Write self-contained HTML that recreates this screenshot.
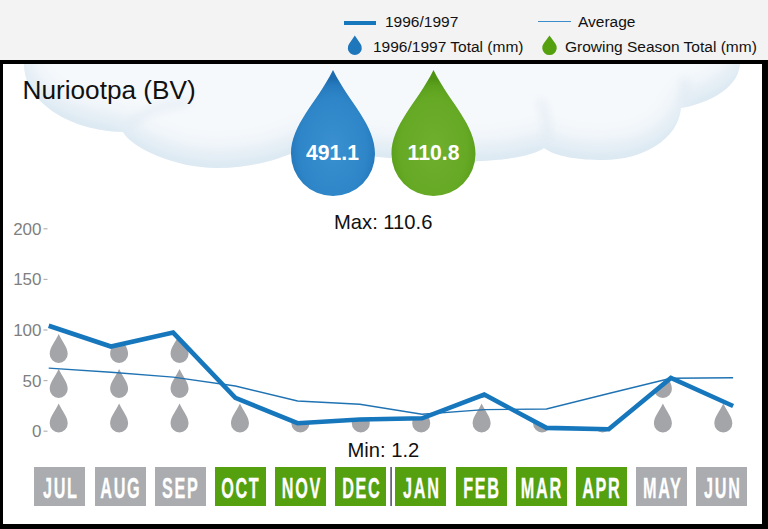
<!DOCTYPE html>
<html><head><meta charset="utf-8">
<style>
*{margin:0;padding:0;box-sizing:border-box}
html,body{width:768px;height:529px;overflow:hidden;background:#f3f3f3;font-family:"Liberation Sans",sans-serif}
.lg{position:absolute;font-size:15.5px;color:#111;line-height:15px;white-space:nowrap}
#box{position:absolute;left:0;top:60px;width:768px;height:469px;background:#000}
#inner{position:absolute;left:3px;top:64px;width:759px;height:460px;background:#fff;overflow:hidden}
svg{position:absolute;left:0;top:0}
.mb{position:absolute;top:467px;width:51px;height:39px;text-align:center;overflow:hidden}
.mb span{position:absolute;left:50%;top:0;color:#fff;font-weight:bold;font-size:29.5px;line-height:42.5px;letter-spacing:3px;text-indent:3px;transform:translateX(-50%) scaleX(0.55);-webkit-text-stroke:0.3px #fff;white-space:nowrap}
.t{position:absolute;white-space:nowrap;color:#111}
</style></head><body>
<div class="lg" style="left:344px;top:21px;width:32px;height:4px;background:#1777bc"></div>
<div class="lg" style="left:385px;top:14px">1996/1997</div>
<div class="lg" style="left:538px;top:20.5px;width:33px;height:1.5px;background:#3b8ccb"></div>
<div class="lg" style="left:578px;top:14px">Average</div>
<svg width="768" height="60" style="top:0">
<path fill="#1f77bb" d="M354.80,35.50 L360.60,44.08 A7.00,7.00 0 1 1 349.00,44.08 Z"/>
<path fill="#55a00e" d="M549.50,35.50 L555.34,43.46 A7.25,7.25 0 1 1 543.66,43.46 Z"/>
</svg>
<div class="lg" style="left:373px;top:39px">1996/1997 Total (mm)</div>
<div class="lg" style="left:565px;top:39px">Growing Season Total (mm)</div>
<div id="box"></div>
<div id="inner"></div>
<svg width="768" height="529">
<defs>
<linearGradient id="cg" x1="0" y1="0" x2="0" y2="1">
<stop offset="0" stop-color="#f7fafd"/><stop offset="0.6" stop-color="#eef4f9"/><stop offset="1" stop-color="#dfeaf3"/>
</linearGradient>
<radialGradient id="bg1" cx="0.5" cy="0.62" r="0.55">
<stop offset="0" stop-color="#3a90d0"/><stop offset="0.72" stop-color="#2e86c8"/><stop offset="0.9" stop-color="#267bbe"/><stop offset="1" stop-color="#1c6daf"/>
</radialGradient>
<radialGradient id="gg1" cx="0.5" cy="0.62" r="0.55">
<stop offset="0" stop-color="#6fb02e"/><stop offset="0.72" stop-color="#66a925"/><stop offset="0.9" stop-color="#5ca11d"/><stop offset="1" stop-color="#4f9313"/>
</radialGradient>
<filter id="blr" x="-50%" y="-50%" width="200%" height="200%"><feGaussianBlur stdDeviation="5"/></filter>
<filter id="ish" x="-10%" y="-10%" width="120%" height="120%">
<feGaussianBlur in="SourceAlpha" stdDeviation="12" result="blur"/>
<feOffset in="blur" dy="-15" result="off"/>
<feComposite in="SourceAlpha" in2="off" operator="out" result="inv"/>
<feFlood flood-color="#d9e7f1" result="fl"/>
<feComposite in="fl" in2="inv" operator="in" result="shadow"/>
<feMerge><feMergeNode in="SourceGraphic"/><feMergeNode in="shadow"/></feMerge>
</filter>
<clipPath id="ic"><rect x="3" y="64" width="759" height="460"/></clipPath>
<clipPath id="under"><polygon points="48.70,470 48.70,325.70 110.92,346.50 173.14,332.60 235.36,397.80 297.58,423.20 359.80,419.50 422.02,418.30 484.24,394.50 546.46,427.90 608.68,429.30 670.90,377.90 733.12,406.00 733.12,470"/></clipPath>
</defs>
<g clip-path="url(#ic)">
<path fill="#f6f9fc" filter="url(#ish)" d="M24,0 L24,64 C24,102 70,131 123,132 C132,148 175,168 217,168 C260,168 290,155 310,145 C330,152 380,159 440,161 C490,163 530,158 544,148 C556,157 580,160 603,160 C642,160 678,140 681,108 C700,105 738,92 740,64 L740,0 Z"/>
<g fill="none" stroke="#dfe9f2" stroke-width="7" filter="url(#blr)" opacity="0.8">
<path d="M126,128 C140,112 165,104 190,102"/>
<path d="M546,144 C548,128 546,112 540,100"/>
<path d="M683,104 C686,96 686,86 683,78"/>
</g>
</g>
<path fill="url(#bg1)" d="M333.00,70.00 C349.80,103.60 375.00,124.60 375.00,154.00 A42.00,42.00 0 0 1 291.00,154.00 C291.00,124.60 316.20,103.60 333.00,70.00 Z"/>
<path fill="url(#gg1)" d="M433.50,70.00 C450.30,103.60 475.50,124.60 475.50,154.00 A42.00,42.00 0 0 1 391.50,154.00 C391.50,124.60 416.70,103.60 433.50,70.00 Z"/>
<g fill="#a4a5a8" clip-path="url(#under)">
<path d="M58.70,334.00 C62.30,342.00 67.70,347.00 67.70,354.00 A9.00,9.00 0 0 1 49.70,354.00 C49.70,347.00 55.10,342.00 58.70,334.00 Z"/><path d="M58.70,369.00 C62.30,377.00 67.70,382.00 67.70,389.00 A9.00,9.00 0 0 1 49.70,389.00 C49.70,382.00 55.10,377.00 58.70,369.00 Z"/><path d="M58.70,403.50 C62.30,411.50 67.70,416.50 67.70,423.50 A9.00,9.00 0 0 1 49.70,423.50 C49.70,416.50 55.10,411.50 58.70,403.50 Z"/><path d="M119.12,334.00 C122.72,342.00 128.12,347.00 128.12,354.00 A9.00,9.00 0 0 1 110.12,354.00 C110.12,347.00 115.52,342.00 119.12,334.00 Z"/><path d="M119.12,369.00 C122.72,377.00 128.12,382.00 128.12,389.00 A9.00,9.00 0 0 1 110.12,389.00 C110.12,382.00 115.52,377.00 119.12,369.00 Z"/><path d="M119.12,403.50 C122.72,411.50 128.12,416.50 128.12,423.50 A9.00,9.00 0 0 1 110.12,423.50 C110.12,416.50 115.52,411.50 119.12,403.50 Z"/><path d="M179.54,334.00 C183.14,342.00 188.54,347.00 188.54,354.00 A9.00,9.00 0 0 1 170.54,354.00 C170.54,347.00 175.94,342.00 179.54,334.00 Z"/><path d="M179.54,369.00 C183.14,377.00 188.54,382.00 188.54,389.00 A9.00,9.00 0 0 1 170.54,389.00 C170.54,382.00 175.94,377.00 179.54,369.00 Z"/><path d="M179.54,403.50 C183.14,411.50 188.54,416.50 188.54,423.50 A9.00,9.00 0 0 1 170.54,423.50 C170.54,416.50 175.94,411.50 179.54,403.50 Z"/><path d="M239.96,334.00 C243.56,342.00 248.96,347.00 248.96,354.00 A9.00,9.00 0 0 1 230.96,354.00 C230.96,347.00 236.36,342.00 239.96,334.00 Z"/><path d="M239.96,369.00 C243.56,377.00 248.96,382.00 248.96,389.00 A9.00,9.00 0 0 1 230.96,389.00 C230.96,382.00 236.36,377.00 239.96,369.00 Z"/><path d="M239.96,403.50 C243.56,411.50 248.96,416.50 248.96,423.50 A9.00,9.00 0 0 1 230.96,423.50 C230.96,416.50 236.36,411.50 239.96,403.50 Z"/><path d="M300.38,334.00 C303.98,342.00 309.38,347.00 309.38,354.00 A9.00,9.00 0 0 1 291.38,354.00 C291.38,347.00 296.78,342.00 300.38,334.00 Z"/><path d="M300.38,369.00 C303.98,377.00 309.38,382.00 309.38,389.00 A9.00,9.00 0 0 1 291.38,389.00 C291.38,382.00 296.78,377.00 300.38,369.00 Z"/><path d="M300.38,403.50 C303.98,411.50 309.38,416.50 309.38,423.50 A9.00,9.00 0 0 1 291.38,423.50 C291.38,416.50 296.78,411.50 300.38,403.50 Z"/><path d="M360.80,334.00 C364.40,342.00 369.80,347.00 369.80,354.00 A9.00,9.00 0 0 1 351.80,354.00 C351.80,347.00 357.20,342.00 360.80,334.00 Z"/><path d="M360.80,369.00 C364.40,377.00 369.80,382.00 369.80,389.00 A9.00,9.00 0 0 1 351.80,389.00 C351.80,382.00 357.20,377.00 360.80,369.00 Z"/><path d="M360.80,403.50 C364.40,411.50 369.80,416.50 369.80,423.50 A9.00,9.00 0 0 1 351.80,423.50 C351.80,416.50 357.20,411.50 360.80,403.50 Z"/><path d="M421.22,334.00 C424.82,342.00 430.22,347.00 430.22,354.00 A9.00,9.00 0 0 1 412.22,354.00 C412.22,347.00 417.62,342.00 421.22,334.00 Z"/><path d="M421.22,369.00 C424.82,377.00 430.22,382.00 430.22,389.00 A9.00,9.00 0 0 1 412.22,389.00 C412.22,382.00 417.62,377.00 421.22,369.00 Z"/><path d="M421.22,403.50 C424.82,411.50 430.22,416.50 430.22,423.50 A9.00,9.00 0 0 1 412.22,423.50 C412.22,416.50 417.62,411.50 421.22,403.50 Z"/><path d="M481.64,334.00 C485.24,342.00 490.64,347.00 490.64,354.00 A9.00,9.00 0 0 1 472.64,354.00 C472.64,347.00 478.04,342.00 481.64,334.00 Z"/><path d="M481.64,369.00 C485.24,377.00 490.64,382.00 490.64,389.00 A9.00,9.00 0 0 1 472.64,389.00 C472.64,382.00 478.04,377.00 481.64,369.00 Z"/><path d="M481.64,403.50 C485.24,411.50 490.64,416.50 490.64,423.50 A9.00,9.00 0 0 1 472.64,423.50 C472.64,416.50 478.04,411.50 481.64,403.50 Z"/><path d="M542.06,334.00 C545.66,342.00 551.06,347.00 551.06,354.00 A9.00,9.00 0 0 1 533.06,354.00 C533.06,347.00 538.46,342.00 542.06,334.00 Z"/><path d="M542.06,369.00 C545.66,377.00 551.06,382.00 551.06,389.00 A9.00,9.00 0 0 1 533.06,389.00 C533.06,382.00 538.46,377.00 542.06,369.00 Z"/><path d="M542.06,403.50 C545.66,411.50 551.06,416.50 551.06,423.50 A9.00,9.00 0 0 1 533.06,423.50 C533.06,416.50 538.46,411.50 542.06,403.50 Z"/><path d="M602.48,334.00 C606.08,342.00 611.48,347.00 611.48,354.00 A9.00,9.00 0 0 1 593.48,354.00 C593.48,347.00 598.88,342.00 602.48,334.00 Z"/><path d="M602.48,369.00 C606.08,377.00 611.48,382.00 611.48,389.00 A9.00,9.00 0 0 1 593.48,389.00 C593.48,382.00 598.88,377.00 602.48,369.00 Z"/><path d="M602.48,403.50 C606.08,411.50 611.48,416.50 611.48,423.50 A9.00,9.00 0 0 1 593.48,423.50 C593.48,416.50 598.88,411.50 602.48,403.50 Z"/><path d="M662.90,334.00 C666.50,342.00 671.90,347.00 671.90,354.00 A9.00,9.00 0 0 1 653.90,354.00 C653.90,347.00 659.30,342.00 662.90,334.00 Z"/><path d="M662.90,369.00 C666.50,377.00 671.90,382.00 671.90,389.00 A9.00,9.00 0 0 1 653.90,389.00 C653.90,382.00 659.30,377.00 662.90,369.00 Z"/><path d="M662.90,403.50 C666.50,411.50 671.90,416.50 671.90,423.50 A9.00,9.00 0 0 1 653.90,423.50 C653.90,416.50 659.30,411.50 662.90,403.50 Z"/><path d="M723.32,334.00 C726.92,342.00 732.32,347.00 732.32,354.00 A9.00,9.00 0 0 1 714.32,354.00 C714.32,347.00 719.72,342.00 723.32,334.00 Z"/><path d="M723.32,369.00 C726.92,377.00 732.32,382.00 732.32,389.00 A9.00,9.00 0 0 1 714.32,389.00 C714.32,382.00 719.72,377.00 723.32,369.00 Z"/><path d="M723.32,403.50 C726.92,411.50 732.32,416.50 732.32,423.50 A9.00,9.00 0 0 1 714.32,423.50 C714.32,416.50 719.72,411.50 723.32,403.50 Z"/>
</g>
<polyline points="48.70,368.10 110.92,372.20 173.14,377.10 235.36,386.00 297.58,401.00 359.80,404.20 422.02,414.30 484.24,409.60 546.46,409.00 608.68,393.50 670.90,378.30 733.12,377.70" fill="none" stroke="#2073b3" stroke-width="1.45" stroke-linejoin="miter"/>
<polyline points="48.70,325.70 110.92,346.50 173.14,332.60 235.36,397.80 297.58,423.20 359.80,419.50 422.02,418.30 484.24,394.50 546.46,427.90 608.68,429.30 670.90,377.90 733.12,406.00" fill="none" stroke="#1777bc" stroke-width="4.6" stroke-linejoin="miter"/>
<g fill="#7f7f7f" font-size="17" font-family="Liberation Sans" text-anchor="end">
<text x="41.5" y="234.7">200</text><text x="41.5" y="285.3">150</text><text x="41.5" y="335.9">100</text><text x="41.5" y="386.5">50</text><text x="41.5" y="437.1">0</text>
</g>
<g fill="#b5b5b5">
<rect x="43.5" y="228.2" width="4" height="1.2"/><rect x="43.5" y="278.8" width="4" height="1.2"/><rect x="43.5" y="329.4" width="4" height="1.2"/><rect x="43.5" y="380.0" width="4" height="1.2"/><rect x="43.5" y="430.6" width="4" height="1.2"/>
</g>
<g fill="#fff" font-size="21.2" font-weight="bold" font-family="Liberation Sans" text-anchor="middle">
<text x="332.5" y="160">491.1</text><text x="433.5" y="160">110.8</text>
</g>
<rect x="390.3" y="467" width="1.6" height="39" fill="#55556a"/>
</svg>
<div class="t" style="left:22.5px;top:74.8px;font-size:26.2px">Nuriootpa (BV)</div>
<div class="t" style="left:334px;top:210.8px;font-size:20.2px">Max: 110.6</div>
<div class="t" style="left:347.5px;top:438.5px;font-size:20.2px">Min: 1.2</div>
<div class="mb" style="left:34.3px;background:#aaacaf"><span>JUL</span></div><div class="mb" style="left:94.5px;background:#aaacaf"><span>AUG</span></div><div class="mb" style="left:154.7px;background:#aaacaf"><span>SEP</span></div><div class="mb" style="left:214.8px;background:#55a00e"><span>OCT</span></div><div class="mb" style="left:275.0px;background:#55a00e"><span>NOV</span></div><div class="mb" style="left:335.2px;background:#55a00e"><span>DEC</span></div><div class="mb" style="left:395.4px;background:#55a00e"><span>JAN</span></div><div class="mb" style="left:455.6px;background:#55a00e"><span>FEB</span></div><div class="mb" style="left:515.7px;background:#55a00e"><span>MAR</span></div><div class="mb" style="left:575.9px;background:#55a00e"><span>APR</span></div><div class="mb" style="left:636.1px;background:#aaacaf"><span>MAY</span></div><div class="mb" style="left:696.3px;background:#aaacaf"><span>JUN</span></div>
</body></html>
